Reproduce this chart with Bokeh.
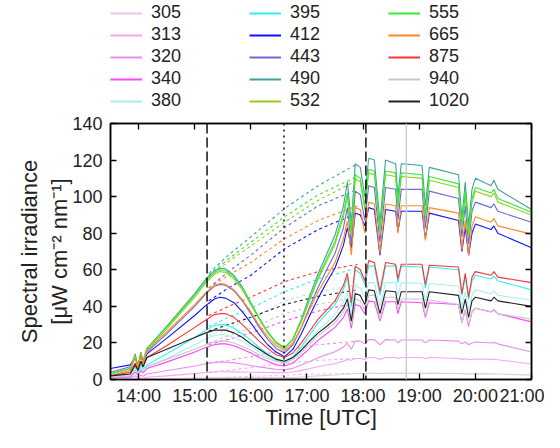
from bokeh.plotting import figure
from bokeh.layouts import column
from bokeh.models import FixedTicker, LinearAxis, Legend, LegendItem, Span, Range1d
from bokeh.embed import file_html
from bokeh.resources import INLINE

# ---------------- data ----------------
wavelengths = ["305", "313", "320", "340", "380", "395", "412", "443",
               "490", "532", "555", "665", "875", "940", "1020"]
colors = ["#e6c8e6", "#f5a8f0", "#e890e8", "#ff44ff", "#a8f0f0", "#33eeee",
          "#1010ff", "#6a6ad8", "#40a0a0", "#99cc22", "#33ee33", "#ff8822",
          "#ff3333", "#c8c8c8", "#222222"]

times = [13.5, 13.85, 13.94, 13.99, 14.04, 14.08, 14.15,
         14.5, 15.0, 15.2, 15.35, 15.45,
         15.55, 15.7, 15.85, 16.0, 16.15, 16.3, 16.45, 16.6,
         16.75, 16.9, 17.05, 17.2, 17.35, 17.5, 17.65, 17.72,
         17.79, 17.86, 17.95, 18.03, 18.1, 18.2, 18.3, 18.4, 18.58, 18.62,
         18.68, 19.05, 19.11, 19.18, 19.7, 19.76, 19.82, 19.88, 19.94, 20.0,
         20.28, 20.33, 20.4, 21.0]

irr_305 = [0, 0.1, 0.2, 0.1, 0.2, 0.2, 0.3, 0.5, 0.8, 0.9, 1.0, 1.0,
           1.0, 1.0, 1.0, 1.0, 1.0, 1.0, 1.0, 1.0,
           1.1, 1.4, 1.7, 2.0, 2.25, 2.5, 2.9, 3.2,
           3.0, 3.3, 3.3, 3.2, 3.5, 3.5, 3.2, 3.5, 3.5, 3.3, 3.5, 3.5, 3.3, 3.5,
           3.3, 3.1, 3.2, 3.0, 3.1, 3.2, 3.1, 3.15, 3.0, 2.4]
irr_313 = [0.2, 0.4, 0.8, 0.5, 1, 0.7, 1.2, 2, 3.2, 3.8, 4.1, 4.2,
           4.2, 4.15, 4.1, 4.0, 3.9, 3.8, 3.75, 3.7,
           4.1, 5, 6, 7, 7.9, 8.7, 10, 11,
           10.5, 11.5, 11.5, 11, 12, 12, 11, 12, 12, 11.5, 12, 12, 11.3, 12,
           11.5, 11, 11.3, 10.8, 11, 11.2, 11, 11.1, 10.8, 8.5]
irr_320 = [0.5, 1, 2, 1.2, 2.5, 1.8, 3, 4.8, 7.4, 8.6, 9.3, 9.5,
           9.5, 9.1, 8.5, 7.7, 6.9, 6.2, 5.6, 5.3,
           6.1, 7.9, 9.9, 11.9, 13.6, 15.2, 17.8, 19.8,
           16.5, 21, 21, 19.5, 21.8, 21.8, 19, 21.8, 21.6, 20, 21.6, 21.6, 20, 21.6,
           21, 19.5, 20.5, 19, 20, 20.5, 20, 20.3, 19.5, 15]
irr_340 = [1, 1.5, 4, 2.5, 5, 3.5, 6, 9.5, 15, 17.5, 19, 19.5,
           19.5, 18.5, 16.5, 14.5, 12, 10, 8, 7.4,
           9, 13, 17, 21.5, 25, 28.5, 34, 38.5,
           28, 41, 40, 36, 43, 42.5, 32, 42.5, 42.5, 36, 42.5, 42, 34, 42,
           41, 31, 38, 29, 37, 39, 37, 38, 36, 31.5]
irr_380 = [1.5, 2.5, 6, 3.5, 7, 5, 7, 11.5, 19, 22, 24, 24.5,
           24.5, 23, 21, 18, 15, 12.5, 10.5, 9.5,
           11.5, 16, 21.5, 27, 31, 35.5, 42.5, 48,
           35, 51, 50, 45, 53, 53, 40, 53, 53, 46, 53, 52.5, 43, 52.5,
           51, 40, 48, 38, 46, 49, 47, 48.5, 46, 43.5]
irr_395 = [2, 3, 7, 4, 8, 6, 8, 14, 23, 27, 29.5, 30,
           30, 28, 25, 21.5, 17.5, 14, 11.5, 10,
           12.5, 18, 24.5, 31, 36, 41, 49.5, 56,
           40, 60, 58, 52, 62, 62, 46, 62, 62, 53, 62, 61.5, 50, 61.5,
           60, 46, 56, 44, 54, 57, 55, 56.5, 54, 49]
irr_412 = [6, 8, 12, 8, 13, 9, 14, 22.5, 35, 40.5, 44, 45,
           44.5, 42, 37, 31, 24.5, 19, 15, 12.5,
           16.5, 25, 35, 44.5, 53, 61, 73.5, 83,
           72, 91, 90, 84, 94, 93, 68, 93, 92, 81, 92, 92, 77, 91,
           87, 70, 83, 68, 80, 85, 82, 84, 80, 72]
irr_443 = [4, 7, 12, 7, 14, 9, 15, 25, 40, 47, 51, 52,
           51.5, 48.5, 43, 36, 28.5, 22, 17, 14.5,
           19, 28.5, 40, 50.5, 60, 69, 83, 94,
           74, 103, 101, 87, 106, 105, 75, 105, 104, 87, 104, 104, 83, 103,
           99, 78, 95, 74, 92, 97, 94, 96, 92, 86]
irr_490 = [3, 6, 14, 7, 15, 10, 17, 29, 47, 55, 59.5, 61,
           60.5, 57, 50.5, 42, 33.5, 26, 20, 17,
           22, 33, 46, 58, 68.5, 79, 95, 108,
           85, 118, 116, 100, 121, 120, 86, 120, 118, 100, 118, 117, 95, 116,
           112, 88, 108, 84, 104, 110, 106, 109, 104, 93]
irr_532 = [3, 6, 13, 7, 14, 10, 16, 27.5, 45, 53, 57.5, 59,
           58.5, 55, 49, 41, 33, 25.5, 20, 17,
           22, 31.5, 43.5, 55, 64.5, 74, 89, 100.5,
           79, 110, 108, 93, 113, 112, 80, 112, 111, 93, 111, 110, 88, 109,
           105, 82, 101, 78, 97, 103, 100, 102, 97, 90]
irr_555 = [3, 6, 13, 7, 15, 10, 17, 28.5, 46, 54, 58.5, 60,
           59.5, 56, 50, 41.5, 33.5, 26, 20.5, 17.5,
           22, 32.5, 44.5, 56, 66, 75.5, 91, 102,
           81, 112, 110, 95, 115, 114, 82, 114, 113, 95, 113, 112, 90, 111,
           107, 84, 103, 80, 99, 105, 102, 104, 99, 91.5]
irr_665 = [2, 5, 12, 6, 14, 9, 16, 26, 41, 47.5, 51.5, 52.5,
           52, 49, 43.5, 37, 29.5, 23.5, 18.5, 16,
           20, 28.5, 38.5, 48, 56, 64, 77, 86.5,
           68, 94, 93, 80, 97, 96, 69, 96, 95, 80, 95, 95, 76, 94,
           91, 71, 87, 68, 84, 89, 86, 88, 84, 79.5]
irr_875 = [2, 4, 9, 5, 10, 7, 12, 18.5, 28.5, 32.5, 35.5, 36,
           36, 34, 30, 25.5, 21, 17, 13.5, 12,
           14.5, 20, 26.5, 33, 38, 43, 51.5, 58,
           42, 62, 60, 54, 65, 64, 48, 64, 63, 55, 63, 63, 52, 62.5,
           61.5, 47, 58, 45, 56, 59, 57, 59, 56, 53]
irr_940 = [1, 2, 5, 3, 6, 4, 7, 11, 16.5, 19, 20.5, 21,
           21, 20, 18, 16, 13.5, 11.5, 10, 9,
           11, 14.5, 19.5, 24, 27.5, 31, 37, 41.5,
           30, 44, 43, 38, 46, 46, 33, 45, 45, 38, 44, 44, 35, 43.5,
           41, 31, 38, 30, 37, 39, 37, 38.5, 36, 33]
irr_1020 = [2, 3, 8, 5, 10, 7, 12, 16.5, 23, 25.5, 27, 27,
            27, 25.5, 23, 19.5, 16.5, 13.5, 11, 10,
            12, 16, 21, 25.5, 29, 33, 39, 44,
            32, 47, 46, 41, 49, 48.5, 36, 48.5, 48, 41, 48, 48, 39, 48,
            46, 36, 44, 34, 43, 45, 43, 45, 43, 40]

# dashed (gap-filling) estimates
dashed_times = [15.25, 15.6, 16.0, 16.6, 17.2, 17.9]
fill_305 = [1.0, 1.3, 1.7, 2.4, 3.0, 3.3]
fill_313 = [4, 5, 6.5, 9, 10.5, 11.5]
fill_320 = [9, 10.5, 12.5, 16, 19, 21]
fill_340 = [19, 22, 25.5, 32, 37.5, 42]
fill_380 = [24, 28, 33, 43, 48, 52]
fill_395 = [29, 34, 39, 48, 55, 61]
fill_412 = [43, 50, 57, 71.5, 82, 91]
fill_443 = [50, 59, 68, 83, 95, 104]
fill_490 = [58, 68, 78, 93.5, 106, 118]
fill_532 = [56, 64.5, 73, 86, 98, 109]
fill_555 = [57, 66, 75, 89, 101, 111]
fill_665 = [50, 57, 64, 77, 87, 95]
fill_875 = [35, 40, 45, 53.5, 59, 63]
fill_940 = [20, 24, 28, 36, 41, 45]
fill_1020 = [26.5, 30, 34, 41, 45.5, 49]

measured = [irr_305, irr_313, irr_320, irr_340, irr_380, irr_395, irr_412, irr_443,
            irr_490, irr_532, irr_555, irr_665, irr_875, irr_940, irr_1020]
filled = [fill_305, fill_313, fill_320, fill_340, fill_380, fill_395, fill_412, fill_443,
          fill_490, fill_532, fill_555, fill_665, fill_875, fill_940, fill_1020]

hour_ticks = [14, 15, 16, 17, 18, 19, 20, 21]
hour_labels = ["14:00", "15:00", "16:00", "17:00", "18:00", "19:00", "20:00", "21:00"]
y_ticks = [0, 20, 40, 60, 80, 100, 120, 140]

event_dashed = [15.22, 18.05]
event_dotted = [16.59]
event_gray = [18.77]

FONT = "Liberation Sans"
TXT = "#222222"
W = 544
LEFT = 106
RIGHT = 13
LEG_H = 112
MAIN_H = 320

# ---------------- legend strip (own figure, so nothing is clipped) ----------------
pl = figure(width=W, height=LEG_H, output_backend="svg", toolbar_location=None,
            x_range=Range1d(0, 1), y_range=Range1d(0, 1),
            x_axis_location=None, y_axis_location=None,
            min_border_left=110, min_border_right=0, min_border_top=2,
            min_border_bottom=0)
pl.grid.visible = False
pl.outline_line_color = None
pl.background_fill_color = "white"
pl.border_fill_color = "white"
items = []
for w, vals, col in zip(wavelengths, measured, colors):
    # data lie outside this strip's ranges: only the legend key is seen
    r = pl.line(times, vals, line_color=col, line_width=2)
    items.append(LegendItem(label=w, renderers=[r]))
legend = Legend(items=items, location="top_left", orientation="vertical", nrows=5,
                glyph_width=32, glyph_height=20, label_height=20, label_width=97,
                label_standoff=9, spacing=1, padding=0, margin=0,
                border_line_color=None, background_fill_alpha=0,
                label_text_font_size="18px", label_text_font=FONT,
                label_text_color=TXT)
pl.add_layout(legend)

# ---------------- main figure ----------------
p = figure(width=W, height=MAIN_H, output_backend="svg", toolbar_location=None,
           x_range=Range1d(13.5, 21.0), y_range=Range1d(0, 140),
           min_border_left=LEFT, min_border_right=RIGHT, min_border_top=11,
           min_border_bottom=0)
p.xgrid.visible = False
p.ygrid.visible = False
p.outline_line_color = "black"
p.outline_line_width = 1.5
p.background_fill_color = "white"
p.border_fill_color = "white"


def style_axis(ax, show_labels):
    ax.major_tick_in = 6
    ax.major_tick_out = 0
    ax.minor_tick_line_color = None
    ax.axis_line_color = "black"
    ax.axis_line_width = 1.5
    ax.major_tick_line_width = 1.3
    ax.major_label_text_font = FONT
    if show_labels:
        ax.major_label_text_color = TXT
        ax.major_label_text_font_size = "18px"
        ax.major_label_standoff = 8
    else:
        ax.major_label_text_color = None
        ax.major_label_text_font_size = "1px"
        ax.major_label_standoff = 0


p.xaxis.ticker = FixedTicker(ticks=hour_ticks)
p.xaxis.major_label_overrides = dict(zip(hour_ticks, hour_labels))
p.yaxis.ticker = FixedTicker(ticks=y_ticks)
style_axis(p.xaxis[0], True)
style_axis(p.yaxis[0], True)
p.xaxis.major_label_standoff = 6

p.xaxis.axis_label = "Time [UTC]"
p.xaxis.axis_label_text_font = FONT
p.xaxis.axis_label_text_font_size = "22px"
p.xaxis.axis_label_text_font_style = "normal"
p.xaxis.axis_label_text_color = TXT
p.xaxis.axis_label_standoff = -4

p.yaxis.axis_label = "Spectral irradiance\n[μW cm⁻² nm⁻¹]"
p.yaxis.axis_label_text_font = FONT
p.yaxis.axis_label_text_font_size = "22px"
p.yaxis.axis_label_text_font_style = "normal"
p.yaxis.axis_label_text_color = TXT
p.yaxis.axis_label_standoff = -3

top_ax = LinearAxis(ticker=FixedTicker(ticks=hour_ticks))
style_axis(top_ax, False)
p.add_layout(top_ax, "above")
right_ax = LinearAxis(ticker=FixedTicker(ticks=y_ticks))
style_axis(right_ax, False)
p.add_layout(right_ax, "right")

# data lines
for fvals, col in zip(filled, colors):
    p.line(dashed_times, fvals, line_color=col, line_width=1.1, line_dash="3 3")
for vals, col in zip(measured, colors):
    p.line(times, vals, line_color=col, line_width=1.1)

# event markers
for t in event_dashed:
    p.add_layout(Span(location=t, dimension="height", line_color="black",
                      line_width=1.4, line_dash="10 4"))
for t in event_dotted:
    p.add_layout(Span(location=t, dimension="height", line_color="black",
                      line_width=1.4, line_dash="2 4"))
for t in event_gray:
    p.add_layout(Span(location=t, dimension="height", line_color="#cccccc",
                      line_width=1.5))

layout = column(pl, p, spacing=0)
open("out.html", "w").write(file_html(layout, INLINE))
